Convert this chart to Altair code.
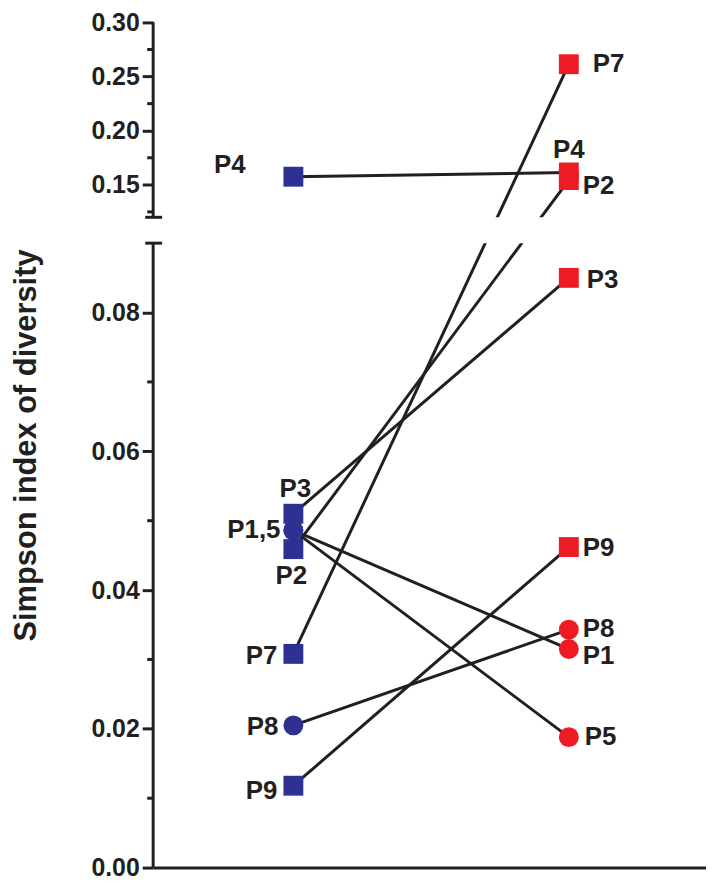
import altair as alt
import pandas as pd

# ---------------- data ----------------
patients = ["P1", "P2", "P3", "P4", "P5", "P7", "P8", "P9"]
before = [0.0486, 0.0459, 0.0510, 0.1575, 0.0486, 0.0308, 0.0205, 0.0118]
after = [0.0315, 0.1544, 0.0850, 0.1614, 0.0188, 0.2614, 0.0343, 0.0462]
marker = ["circle", "square", "square", "square", "circle", "square", "circle", "square"]
phases = ["before", "after"]
phase_pos = [0, 1]

before_label_text = ["P1,5", "P2", "P3", "P4", "P7", "P8", "P9"]
before_label_anchor = ["P1", "P2", "P3", "P4", "P7", "P8", "P9"]
after_label_text = patients

lower_ticks = [0.00, 0.02, 0.04, 0.06, 0.08]
upper_ticks = [0.15, 0.20, 0.25, 0.30]
minor_ticks = [0.01, 0.03, 0.05, 0.07, 0.125, 0.175, 0.225, 0.275]
break_low, break_high = 0.09, 0.12
y_min, y_max = 0.0, 0.30
x_min, x_max = -0.509, 1.498

# ---------------- layout / style ----------------
BLUE = "#2E3192"
RED = "#ED1C24"
INK = "#231F20"
FONT = "Liberation Sans"
W, H = 556, 850
Y_RANGE = [H, 222, 196, 0]
LABEL_SIZE = 26

# label placement: (phase, text) -> (align, dx, dy)
PLACE = {
    ("before", "P1,5"): ("right", -13, 0),
    ("before", "P2"): ("center", -2, 27),
    ("before", "P3"): ("center", 2, -25),
    ("before", "P4"): ("right", -48, -12),
    ("before", "P7"): ("right", -16, 2),
    ("before", "P8"): ("right", -15, 2),
    ("before", "P9"): ("right", -16, 5),
    ("after", "P1"): ("left", 14, 7),
    ("after", "P2"): ("left", 14, 6),
    ("after", "P3"): ("left", 18, 2),
    ("after", "P4"): ("center", 0, -23),
    ("after", "P5"): ("left", 16, 0),
    ("after", "P7"): ("left", 24, 0),
    ("after", "P8"): ("left", 14, -1),
    ("after", "P9"): ("left", 14, 1),
}

# ---------------- tables ----------------
rows = []
for p, b, a, m in zip(patients, before, after, marker):
    rows.append({"patient": p, "phase": phases[0], "t": phase_pos[0], "value": b, "marker": m})
    rows.append({"patient": p, "phase": phases[1], "t": phase_pos[1], "value": a, "marker": m})
df = pd.DataFrame(rows)

lab_rows = []
val_before = dict(zip(patients, before))
val_after = dict(zip(patients, after))
for txt, anc in zip(before_label_text, before_label_anchor):
    lab_rows.append({"label": txt, "phase": "before", "t": phase_pos[0], "value": val_before[anc]})
for txt in after_label_text:
    lab_rows.append({"label": txt, "phase": "after", "t": phase_pos[1], "value": val_after[txt]})
labels = pd.DataFrame(lab_rows)
labels["place"] = [
    "|".join(map(str, PLACE[(r.phase, r.label)])) for r in labels.itertuples()
]

xscale = alt.Scale(domain=[x_min, x_max], nice=False, zero=False)
yscale = alt.Scale(domain=[y_min, break_low, break_high, y_max], range=Y_RANGE,
                   nice=False, zero=False)

X = alt.X("t:Q", scale=xscale,
          axis=alt.Axis(labels=False, ticks=False, title=None, grid=False,
                        domainColor=INK, domainWidth=3))
Y = alt.Y("value:Q", scale=yscale,
          axis=alt.Axis(values=lower_ticks + upper_ticks, format=".2f", grid=False,
                        domain=False, tickSize=11, tickWidth=3, tickColor=INK,
                        labelFont=FONT, labelFontSize=25, labelFontWeight="bold",
                        labelColor=INK, labelPadding=3,
                        title="Simpson index of diversity", titleFont=FONT,
                        titleFontSize=31, titleFontWeight="bold", titleColor=INK,
                        titlePadding=49))


def xq(field):
    return alt.X(field, scale=xscale)


def yq(field):
    return alt.Y(field, scale=yscale)


base = alt.Chart(df)

lines = base.mark_line(color=INK, strokeWidth=3).encode(
    x=X, y=Y, detail="patient:N", order="t:Q"
)

gap = pd.DataFrame({"lo": [break_low], "hi": [break_high], "x0": [x_min], "x1": [x_max]})
mask = alt.Chart(gap).mark_rect(color="white").encode(
    x=xq("x0:Q"), x2="x1:Q", y=yq("lo:Q"), y2="hi:Q"
)

segs = pd.DataFrame({"a": [y_min, break_high], "b": [break_low, y_max]})
yaxis_line = alt.Chart(segs).mark_rule(color=INK, strokeWidth=3).encode(
    x=alt.value(0), y=yq("a:Q"), y2="b:Q"
)

caps = pd.DataFrame({"v": [break_low, break_high]})
cap_rules = alt.Chart(caps).mark_rule(color=INK, strokeWidth=3).encode(
    x=alt.value(-8), x2=alt.value(9), y=yq("v:Q")
)

minor = pd.DataFrame({"v": minor_ticks})
minor_rules = alt.Chart(minor).mark_rule(color=INK, strokeWidth=3).encode(
    x=alt.value(-6), x2=alt.value(0), y=yq("v:Q")
)

points = base.mark_point(filled=True, size=400, opacity=1).encode(
    x=xq("t:Q"), y=yq("value:Q"),
    color=alt.Color("phase:N", scale=alt.Scale(domain=phases, range=[BLUE, RED]), legend=None),
    shape=alt.Shape("marker:N", scale=alt.Scale(domain=["circle", "square"],
                                               range=["circle", "square"]), legend=None),
)

text_layers = []
for place in sorted(set(labels["place"])):
    align, dx, dy = place.split("|")
    text_layers.append(
        alt.Chart(labels).transform_filter(alt.datum.place == place).mark_text(
            align=align, baseline="middle", dx=int(dx), dy=int(dy),
            font=FONT, fontSize=LABEL_SIZE, fontWeight="bold", color=INK
        ).encode(x=xq("t:Q"), y=yq("value:Q"), text="label:N")
    )

chart = alt.layer(lines, mask, yaxis_line, cap_rules, minor_rules, points, *text_layers).properties(
    width=W, height=H, background="white",
    padding={"top": 0, "left": 2, "right": 0, "bottom": 0}
).configure_view(stroke=None).configure_axis(grid=False)

chart.save("out.html", embed_options={"renderer": "svg", "actions": False})
